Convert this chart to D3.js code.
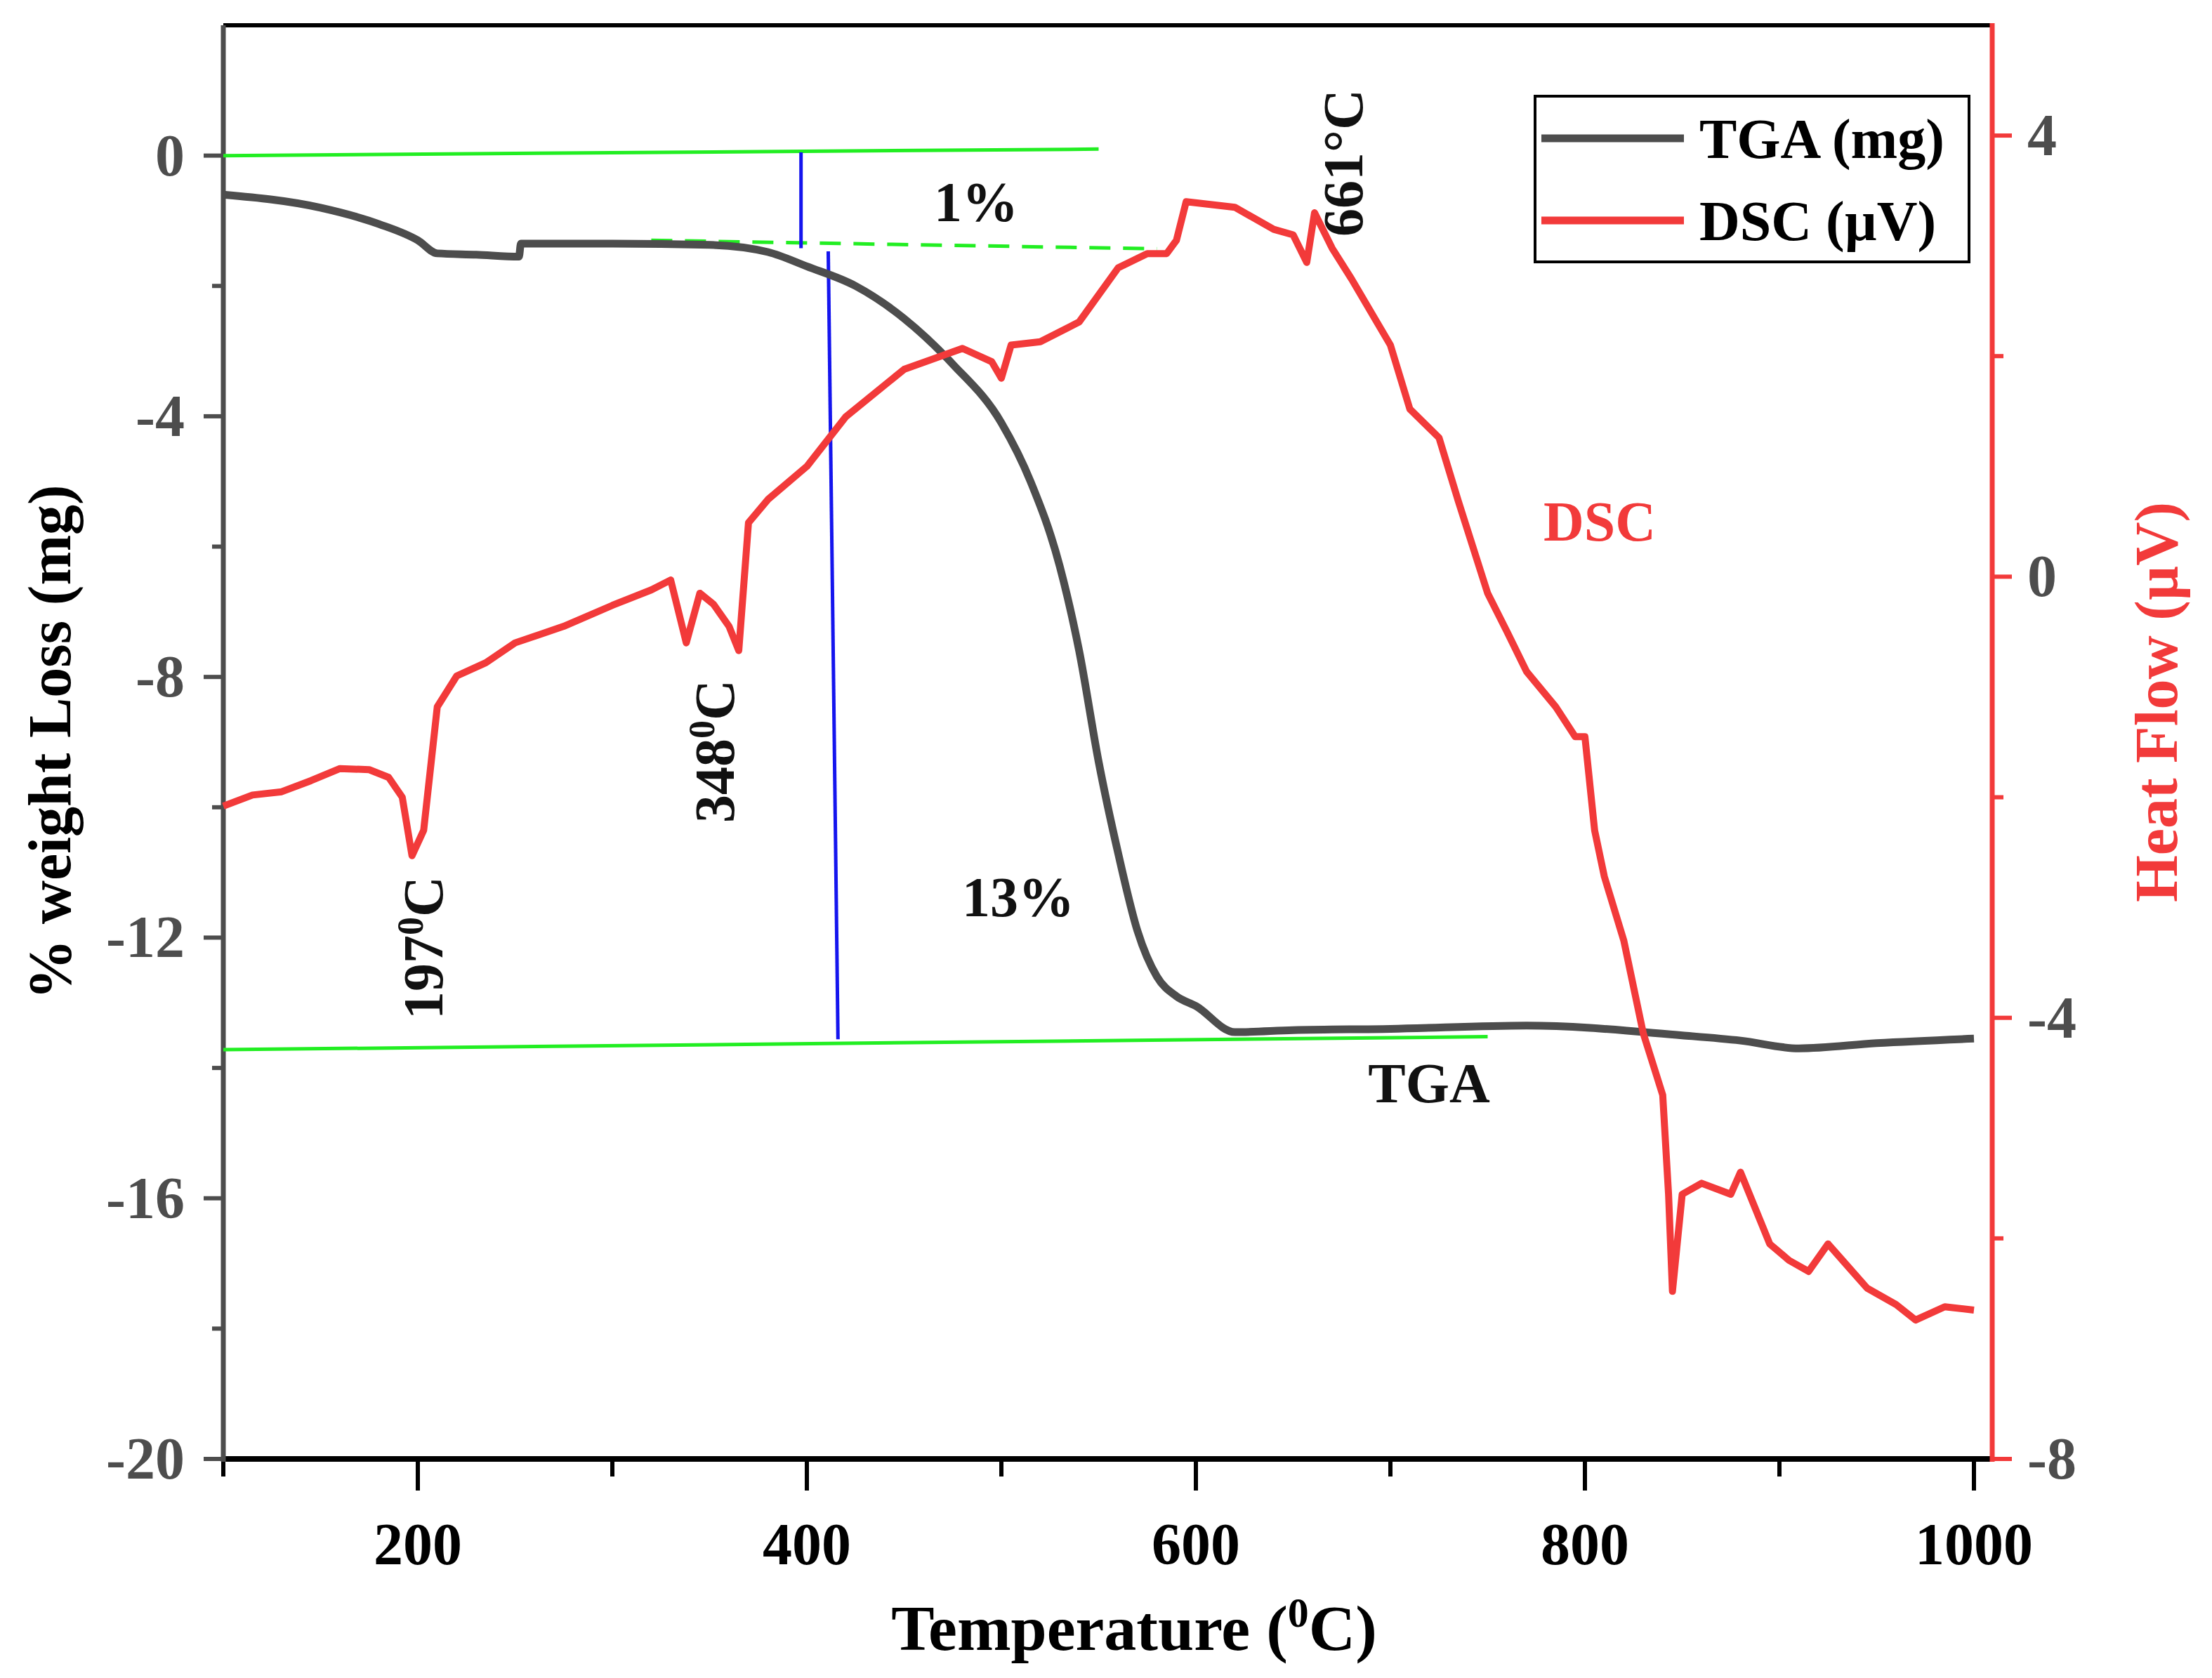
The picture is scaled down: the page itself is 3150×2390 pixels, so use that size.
<!DOCTYPE html><html><head><meta charset="utf-8">
<script src="https://cdn.jsdelivr.net/npm/d3@7"></script>
<style>body{margin:0;background:#fff}text{font-family:"Liberation Serif","Times New Roman",serif;font-weight:bold}</style></head><body>
<svg id="c" width="3150" height="2390"></svg>
<script>
const tgaT=[100,150,180,200,210,230,252,253,300,350,380,400,425,450,475,500,515,530,540,550,560,570,580,590,600,620,650,700,770,850,880,910,950,1000];
const tgaV=[-0.6,-0.8,-1.05,-1.3,-1.5,-1.52,-1.55,-1.35,-1.35,-1.37,-1.48,-1.7,-2.0,-2.5,-3.2,-4.1,-5.0,-6.3,-7.6,-9.3,-10.7,-11.9,-12.6,-12.9,-13.05,-13.45,-13.42,-13.4,-13.35,-13.5,-13.58,-13.7,-13.62,-13.55];
const dscT=[100,115,130,145,160,175,185,192,197,203,210,220,235,250,275,300,320,330,338,345,352,360,365,370,380,400,420,450,480,495,500,505,520,540,560,575,585,590,595,620,640,650,657,661,670,680,700,710,725,735,750,760,770,785,795,800,805,810,820,830,840,843,845,850,860,875,880,895,905,915,925,935,945,960,970,985,1000];
const dscV=[-2.08,-1.98,-1.95,-1.85,-1.74,-1.75,-1.82,-2.0,-2.53,-2.3,-1.18,-0.9,-0.78,-0.6,-0.45,-0.26,-0.12,-0.03,-0.6,-0.15,-0.25,-0.45,-0.67,0.49,0.7,1.0,1.45,1.88,2.07,1.95,1.8,2.1,2.13,2.31,2.8,2.93,2.93,3.05,3.4,3.35,3.15,3.1,2.85,3.3,2.98,2.7,2.1,1.52,1.26,0.68,-0.15,-0.5,-0.86,-1.18,-1.45,-1.45,-2.3,-2.72,-3.3,-4.14,-4.7,-5.6,-6.48,-5.6,-5.5,-5.6,-5.4,-6.05,-6.2,-6.3,-6.05,-6.25,-6.45,-6.6,-6.74,-6.62,-6.65];
const xTicks=[200,400,600,800,1000];
const yLeftTicks=[0,-4,-8,-12,-16,-20];
const yRightTicks=[4,0,-4,-8];
const svg=d3.select("#c");
const L=318,R=2837,T=36,B=2078;
const x=d3.scaleLinear().domain([100,1010]).range([L,L+(2811-L)*910/900]);
const yl=d3.scaleLinear().domain([-20,2]).range([B,T]);
const yr=d3.scaleLinear().domain([-8,5]).range([B,T]);
const red="#f23a3a",gray="#4d4d4d";
svg.append("line").attr("x1",L).attr("x2",R).attr("y1",T).attr("y2",T).attr("stroke","#000").attr("stroke-width",6);
const xa=svg.append("g").attr("transform",`translate(0,${B})`).call(d3.axisBottom(x).tickValues(d3.range(100,1001,50)).tickSize(0).tickFormat(""));
xa.select(".domain").remove();
svg.append("line").attr("x1",L).attr("x2",R).attr("y1",B).attr("y2",B).attr("stroke","#000").attr("stroke-width",8);
d3.range(100,1001,50).forEach(v=>{const maj=v%200==0;svg.append("line").attr("x1",x(v)).attr("x2",x(v)).attr("y1",B).attr("y2",B+(v%100==0?(maj?45:25):0)).attr("stroke","#000").attr("stroke-width",6);});
xTicks.forEach(v=>svg.append("text").attr("x",x(v)).attr("y",B+150).attr("text-anchor","middle").attr("font-size",84).text(v));
svg.append("line").attr("x1",L).attr("x2",L).attr("y1",T).attr("y2",B+4).attr("stroke",gray).attr("stroke-width",7);
d3.range(-20,1,2).forEach(v=>svg.append("line").attr("x1",L).attr("x2",L-(v%4==0?28:16)).attr("y1",yl(v)).attr("y2",yl(v)).attr("stroke",gray).attr("stroke-width",6));
yLeftTicks.forEach(v=>svg.append("text").attr("x",L-55).attr("y",yl(v)+28).attr("text-anchor","end").attr("font-size",84).attr("fill",gray).text(v));
svg.append("line").attr("x1",R).attr("x2",R).attr("y1",T-3).attr("y2",B+4).attr("stroke",red).attr("stroke-width",7);
d3.range(-8,5,2).forEach(v=>svg.append("line").attr("x1",R).attr("x2",R+(v%4==0?28:16)).attr("y1",yr(v)).attr("y2",yr(v)).attr("stroke",red).attr("stroke-width",6));
yRightTicks.forEach(v=>svg.append("text").attr("x",R+50).attr("y",yr(v)+28).attr("font-size",84).attr("fill",gray).text(v));
svg.append("text").attr("x",1615).attr("y",2350).attr("text-anchor","middle").attr("font-size",92).html('Temperature (<tspan baseline-shift="super" font-size="60">0</tspan>C)');
svg.append("text").attr("transform","translate(100,1057) rotate(-90)").attr("text-anchor","middle").attr("font-size",86).text("% weight Loss (mg)");
svg.append("text").attr("transform","translate(3100,1000) rotate(-90)").attr("text-anchor","middle").attr("font-size",86).attr("fill",red).text("Heat Flow (µV)");
const green="#22ee22";
svg.append("line").attr("x1",x(100)).attr("x2",x(550)).attr("y1",yl(0)).attr("y2",yl(0.1)).attr("stroke",green).attr("stroke-width",5);
svg.append("line").attr("x1",x(100)).attr("x2",x(750)).attr("y1",yl(-13.72)).attr("y2",yl(-13.52)).attr("stroke",green).attr("stroke-width",5);
svg.append("line").attr("x1",x(320)).attr("x2",x(580)).attr("y1",yl(-1.3)).attr("y2",yl(-1.43)).attr("stroke",green).attr("stroke-width",5).attr("stroke-dasharray","30,18");
svg.append("line").attr("x1",x(397)).attr("x2",x(397)).attr("y1",yl(0.05)).attr("y2",yl(-1.42)).attr("stroke","#1515ee").attr("stroke-width",5);
svg.append("line").attr("x1",x(411)).attr("x2",x(416)).attr("y1",yl(-1.47)).attr("y2",yl(-13.56)).attr("stroke","#1515ee").attr("stroke-width",5);
const tga=tgaT.map((t,i)=>[t,tgaV[i]]), dsc=dscT.map((t,i)=>[t,dscV[i]]);
svg.append("path").datum(tga).attr("d",d3.line().x(d=>x(d[0])).y(d=>yl(d[1])).curve(d3.curveMonotoneX)).attr("fill","none").attr("stroke",gray).attr("stroke-width",11);
svg.append("path").datum(dsc).attr("d",d3.line().x(d=>x(d[0])).y(d=>yr(d[1]))).attr("fill","none").attr("stroke",red).attr("stroke-width",10).attr("stroke-linejoin","round");
const ann=(tx,ty,s,rot,col)=>svg.append("text").attr("transform",`translate(${tx},${ty})`+(rot?" rotate(-90)":"")).attr("text-anchor","middle").attr("font-size",80).attr("fill",col||"#111").html(s);
ann(1390,315,"1%");ann(1450,1305,"13%");ann(2035,1570,"TGA");ann(2278,770,"DSC",0,red);
ann(630,1350,'197<tspan baseline-shift="super" font-size="52">0</tspan>C',1);
ann(1045,1070,'348<tspan baseline-shift="super" font-size="52">0</tspan>C',1);
ann(1940,232,"661°C",1);
svg.append("rect").attr("x",2186).attr("y",137).attr("width",618).attr("height",236).attr("fill","#fff").attr("stroke","#000").attr("stroke-width",4);
[["TGA (mg)",gray,197],["DSC (µV)",red,314]].forEach(([t,c,yy])=>{svg.append("line").attr("x1",2195).attr("x2",2398).attr("y1",yy).attr("y2",yy).attr("stroke",c).attr("stroke-width",11);svg.append("text").attr("x",2420).attr("y",yy+28).attr("font-size",80).text(t);});
</script></body></html>
